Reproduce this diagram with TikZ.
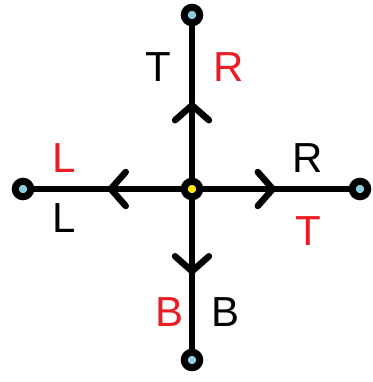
\documentclass[tikz,border=0pt]{standalone}
\usepackage{fontspec}
\setmainfont{Liberation Sans}
\usetikzlibrary{arrows.meta,decorations.markings}
\definecolor{paintred}{RGB}{237,28,36}
\definecolor{tipblue}{RGB}{140,205,222}
\definecolor{hubyellow}{RGB}{255,230,0}

\begin{document}
\begin{tikzpicture}[x=1pt,y=-1pt]
			\tikzset{
				port/.style={circle,draw=black,line width=7pt,fill=tipblue,minimum size=15.5pt,inner sep=0pt},
				hub/.style={port,fill=hubyellow},
				wire/.style={line width=6.5pt,line cap=round,postaction={decorate},
					decoration={markings,mark=at position 0.5 with {\arrow{Straight Barb[length=15pt,width=34pt,round]}}}},
				lbl/.style={inner sep=0pt,font=\fontsize{42}{42}\selectfont}
			}
			\useasboundingbox (0,0) rectangle (372,382);
			\node [hub] (c) at (192,189) {};
			\node [port] (t) at (192,15) {};
			\node [port] (l) at (23,189) {};
			\node [port] (r) at (360,189) {};
			\node [port] (b) at (192,360) {};
			\draw [wire] (c) -- (t);
			\draw [wire] (c) -- (l);
			\draw [wire] (c) -- (r);
			\draw [wire] (c) -- (b);
			\node [lbl] (tT) at (158,67) {T};
			\node [lbl,paintred] (tR) at (229,67) {R};
			\node [lbl,paintred] (lL) at (64,158) {L};
			\node [lbl] (lL2) at (64,218) {L};
			\node [lbl] (rR) at (308,158) {R};
			\node [lbl,paintred] (rT) at (308,231) {T};
			\node [lbl,paintred] (bB) at (170,312) {B};
			\node [lbl] (bB2) at (226,312) {B};
		\end{tikzpicture}
\end{document}
